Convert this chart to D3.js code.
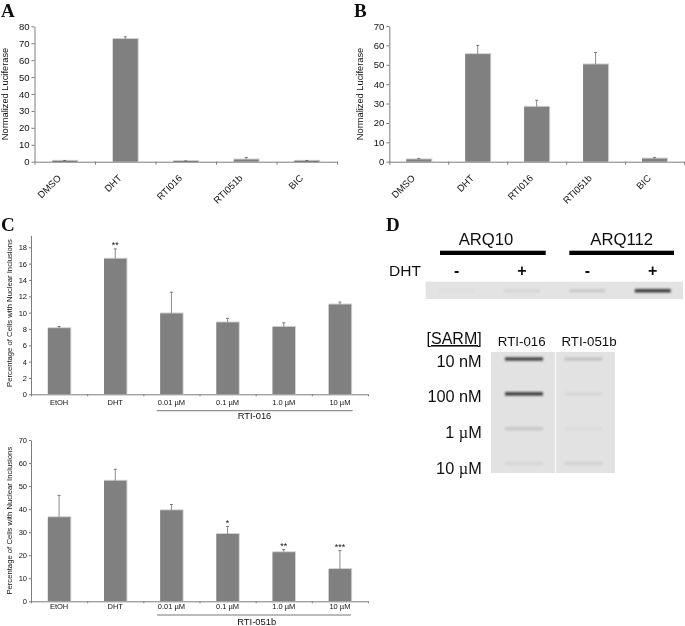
<!DOCTYPE html>
<html><head><meta charset="utf-8">
<script src="https://cdnjs.cloudflare.com/ajax/libs/d3/7.8.5/d3.min.js"></script>
<style>html,body{margin:0;padding:0;background:#fff}svg{display:block}text{font-family:"Liberation Sans",Arial,sans-serif;fill:#111}</style>
</head><body><svg id="c" width="685" height="626"></svg>
<script>
// Panel A / B
const reporterCats = ["DMSO","DHT","RTI016","RTI051b","BIC"];
const aValues = [0.5,72.5,0.4,1.3,0.5];
const aErrTops = [0.7,73.8,0.5,2.5,0.7];
const bValues = [1.2,55.5,28.3,50.2,1.6];
const bErrTops = [1.7,60,31.7,56.3,2.2];
// Panel C
const inclusionCats = ["EtOH","DHT","0.01 µM","0.1 µM","1.0 µM","10 µM"];
const c1Values = [8.1,16.6,9.9,8.8,8.25,11];
const c1ErrTops = [8.3,17.8,12.5,9.3,8.75,11.3];
const c1Stars = ["","**","","","",""];
const c2Values = [36.5,52.3,39.5,29.2,21.3,14];
const c2ErrTops = [46,57.3,42,32.5,22.5,22];
const c2Stars = ["","","","*","**","***"];
// Panel D: band intensities (0..1)
const blot1Lanes = ["ARQ10 -","ARQ10 +","ARQ112 -","ARQ112 +"];
const blot1Bands = [0.02,0.06,0.12,0.85];
const blot2Rows = ["10 nM","100 nM","1 µM","10 µM"];
const blot2Rti016 = [0.8,0.85,0.13,0.05];
const blot2Rti051b = [0.15,0.05,0.04,0.08];

const svg=d3.select("#c");
const defs=svg.append("defs");
defs.append("filter").attr("id","soft").attr("x","-5%").attr("y","-5%").attr("width","110%").attr("height","110%")
  .append("feGaussianBlur").attr("stdDeviation",0.35);
defs.append("filter").attr("id","band").attr("x","-20%").attr("y","-200%").attr("width","140%").attr("height","500%")
  .append("feGaussianBlur").attr("stdDeviation",0.8);
const root=svg.append("g").attr("filter","url(#soft)");
const AX="#7d7d7d",BAR="#808080",EDGE="#d2d2d2";

function chart(o){
  const g=root.append("g");
  const y=d3.scaleLinear().domain([0,o.yMax]).range([o.y0,o.yTop]);
  const n=o.cats.length;
  const x=d3.scaleBand().domain(o.cats).range([o.x0,o.x1]).paddingInner(o.pad).paddingOuter(o.pad/2);
  const xt=d3.scaleLinear().domain([0,n]).range([o.x0,o.x1]);
  g.append("g").attr("transform",`translate(0,${o.y0})`)
    .call(d3.axisBottom(xt).tickValues(d3.range(n+1)).tickFormat("").tickSize(o.tick).tickSizeOuter(0));
  const ay=g.append("g").attr("transform",`translate(${o.x0},0)`)
    .call(d3.axisLeft(y).tickValues(o.ticks).tickSize(o.tick).tickPadding(2).tickSizeOuter(0));
  g.selectAll(".domain,.tick line").attr("stroke",AX);
  ay.selectAll("text").attr("font-size",o.fs).style("font-family",'"Liberation Sans"').style("fill","#111");
  const rows=o.cats.map((c,i)=>({c,v:o.values[i],e:o.errs[i],s:o.stars?o.stars[i]:""}));
  g.selectAll(".edge").data(rows).join("rect").attr("x",d=>x(d.c)).attr("y",d=>y(d.v)-1)
    .attr("width",x.bandwidth()+1).attr("height",d=>y(0)-y(d.v)+1).attr("fill",EDGE);
  g.selectAll(".err").data(rows).join("line").attr("x1",d=>x(d.c)+x.bandwidth()/2).attr("x2",d=>x(d.c)+x.bandwidth()/2)
    .attr("y1",d=>y(d.v)).attr("y2",d=>y(d.e)).attr("stroke","#8c8c8c");
  g.selectAll(".cap").data(rows).join("line").attr("x1",d=>x(d.c)+x.bandwidth()/2-1.5).attr("x2",d=>x(d.c)+x.bandwidth()/2+1.5)
    .attr("y1",d=>y(d.e)).attr("y2",d=>y(d.e)).attr("stroke","#777");
  g.selectAll(".bar").data(rows).join("rect").attr("x",d=>x(d.c)).attr("y",d=>y(d.v))
    .attr("width",x.bandwidth()).attr("height",d=>y(0)-y(d.v)).attr("fill",d=>d.v<1?"#555":BAR);
  if(o.rot){
    g.selectAll(".xl").data(o.cats).join("text").attr("font-size",o.fs).attr("text-anchor","end")
      .attr("transform",c=>`translate(${x(c)+x.bandwidth()/2-3},${o.y0+17}) rotate(-45)`).text(c=>c);
  } else {
    g.selectAll(".xl").data(o.cats).join("text").attr("font-size",o.fs).attr("text-anchor","middle")
      .attr("x",c=>x(c)+x.bandwidth()/2).attr("y",o.xlY).text(c=>c);
  }
  g.append("text").attr("font-size",o.lfs).attr("text-anchor","middle")
    .attr("transform",`translate(${o.ylX},${o.ylY}) rotate(-90)`).text(o.ylabel);
  if(o.stars){
    g.selectAll(".st").data(rows.filter(d=>d.s)).join("text").attr("font-size",9).attr("text-anchor","middle")
      .attr("x",d=>x(d.c)+x.bandwidth()/2).attr("y",d=>y(d.e)-0.5).text(d=>d.s);
  }
}
chart({cats:reporterCats,values:aValues,errs:aErrTops,x0:34.5,x1:337,y0:161.7,yTop:26.3,yMax:80,ticks:d3.range(0,81,10),pad:0.587,tick:3,fs:9.5,lfs:9.3,rot:true,ylabel:"Normalized Luciferase",ylX:8,ylY:94});
chart({cats:reporterCats,values:bValues,errs:bErrTops,x0:389.3,x1:684,y0:161.7,yTop:26,yMax:70,ticks:d3.range(0,71,10),pad:0.575,tick:3,fs:9.5,lfs:9.3,rot:true,ylabel:"Normalized Luciferase",ylX:363,ylY:94});
chart({cats:inclusionCats,values:c1Values,errs:c1ErrTops,stars:c1Stars,x0:31,x1:368,y0:394.3,yTop:235.3,yMax:19.47,ticks:d3.range(0,19,2),pad:0.6,tick:2,fs:7.5,lfs:7.7,xlY:405,ylabel:"Percentage of Cells with Nuclear Inclusions",ylX:12,ylY:313});
chart({cats:inclusionCats,values:c2Values,errs:c2ErrTops,stars:c2Stars,x0:31,x1:368,y0:601.3,yTop:440,yMax:70,ticks:d3.range(0,71,10),pad:0.6,tick:2,fs:7.5,lfs:7.7,xlY:608.7,ylabel:"Percentage of Cells with Nuclear Inclusions",ylX:12,ylY:520.7});

// Group underlines + labels
[[156.7,352.7,410.7,"RTI-016",254.5,419],[157,351,615,"RTI-051b",256.7,625]].forEach(d=>{
  root.append("line").attr("x1",d[0]).attr("x2",d[1]).attr("y1",d[2]).attr("y2",d[2]).attr("stroke","#777");
  root.append("text").attr("x",d[4]).attr("y",d[5]).attr("font-size",9.4).attr("text-anchor","middle").text(d[3]);
});

// Panel letters
[["A",1,17],["B",354,17],["C",1,231],["D",386,231]].forEach(d=>{
  root.append("text").attr("x",d[1]).attr("y",d[2]).text(d[0]).attr("font-size",19).attr("font-weight","bold")
   .style("font-family",'"Liberation Serif"').style("fill","#111");
});

// Panel D top
const D=root.append("g");
[["ARQ10",486,440,545.7],["ARQ112",621.7,569.3,674]].forEach(d=>{
  D.append("text").attr("x",d[1]).attr("y",245).attr("font-size",16.7).attr("text-anchor","middle").text(d[0]);
  D.append("rect").attr("x",d[2]).attr("y",250.7).attr("width",d[3]-d[2]).attr("height",4.3).attr("fill","#000");
});
D.append("text").attr("x",389).attr("y",276).attr("font-size",15.5).text("DHT");
const lane1=d3.scalePoint().domain(blot1Lanes).range([456.7,652.7]);
[["-",0],["+",1],["-",2],["+",3]].forEach(d=>{
  D.append("text").attr("x",lane1(blot1Lanes[d[1]])).attr("y",276).attr("font-size",16).attr("font-weight","bold")
   .attr("text-anchor","middle").text(d[0]);
});
D.append("rect").attr("x",425.7).attr("y",281.7).attr("width",257.3).attr("height",17.3).attr("fill","#e3e3e3");
const bandOp=d3.scaleLinear().domain([0,1]).range([0,1]);
D.selectAll(".b1").data(blot1Bands).join("rect").attr("x",(d,i)=>lane1(blot1Lanes[i])-18).attr("y",289).attr("width",36).attr("height",3.5)
 .attr("fill","#222").attr("opacity",d=>bandOp(d)).attr("filter","url(#band)");

// Panel D lower
D.append("text").attr("x",481.7).attr("y",344).attr("font-size",16).attr("text-anchor","end").attr("text-decoration","underline").text("[SARM]");
D.append("text").attr("x",521.7).attr("y",346).attr("font-size",13.3).attr("text-anchor","middle").text("RTI-016");
D.append("text").attr("x",589).attr("y",346).attr("font-size",13.3).attr("text-anchor","middle").text("RTI-051b");
const rowY=d3.scalePoint().domain(blot2Rows).range([359,463.5]);
const labelY=d3.scalePoint().domain(blot2Rows).range([366.7,474]);
D.selectAll(".rl").data(blot2Rows).join("text").attr("x",481.7).attr("y",r=>labelY(r)).attr("font-size",16.3).attr("text-anchor","end")
 .each(function(r){
   const t=d3.select(this);
   if(r.includes("µ")){ const [a,b]=r.split("µ");
     t.append("tspan").text(a);
     t.append("tspan").style("font-family",'"Liberation Serif"').text("µ");
     t.append("tspan").text(b);
   } else t.text(r);
 });
D.append("rect").attr("x",491).attr("y",352).attr("width",124).attr("height",121).attr("fill","#e2e2e2");
D.append("rect").attr("x",555).attr("y",352).attr("width",1).attr("height",121).attr("fill","#fff");
[[blot2Rti016,524],[blot2Rti051b,583.5]].forEach(s=>{
  D.selectAll(null).data(s[0]).join("rect").attr("x",s[1]-19).attr("y",(d,i)=>rowY(blot2Rows[i])-1.75).attr("width",38).attr("height",3.5)
   .attr("fill","#222").attr("opacity",d=>bandOp(d)).attr("filter","url(#band)");
});
</script></body></html>
